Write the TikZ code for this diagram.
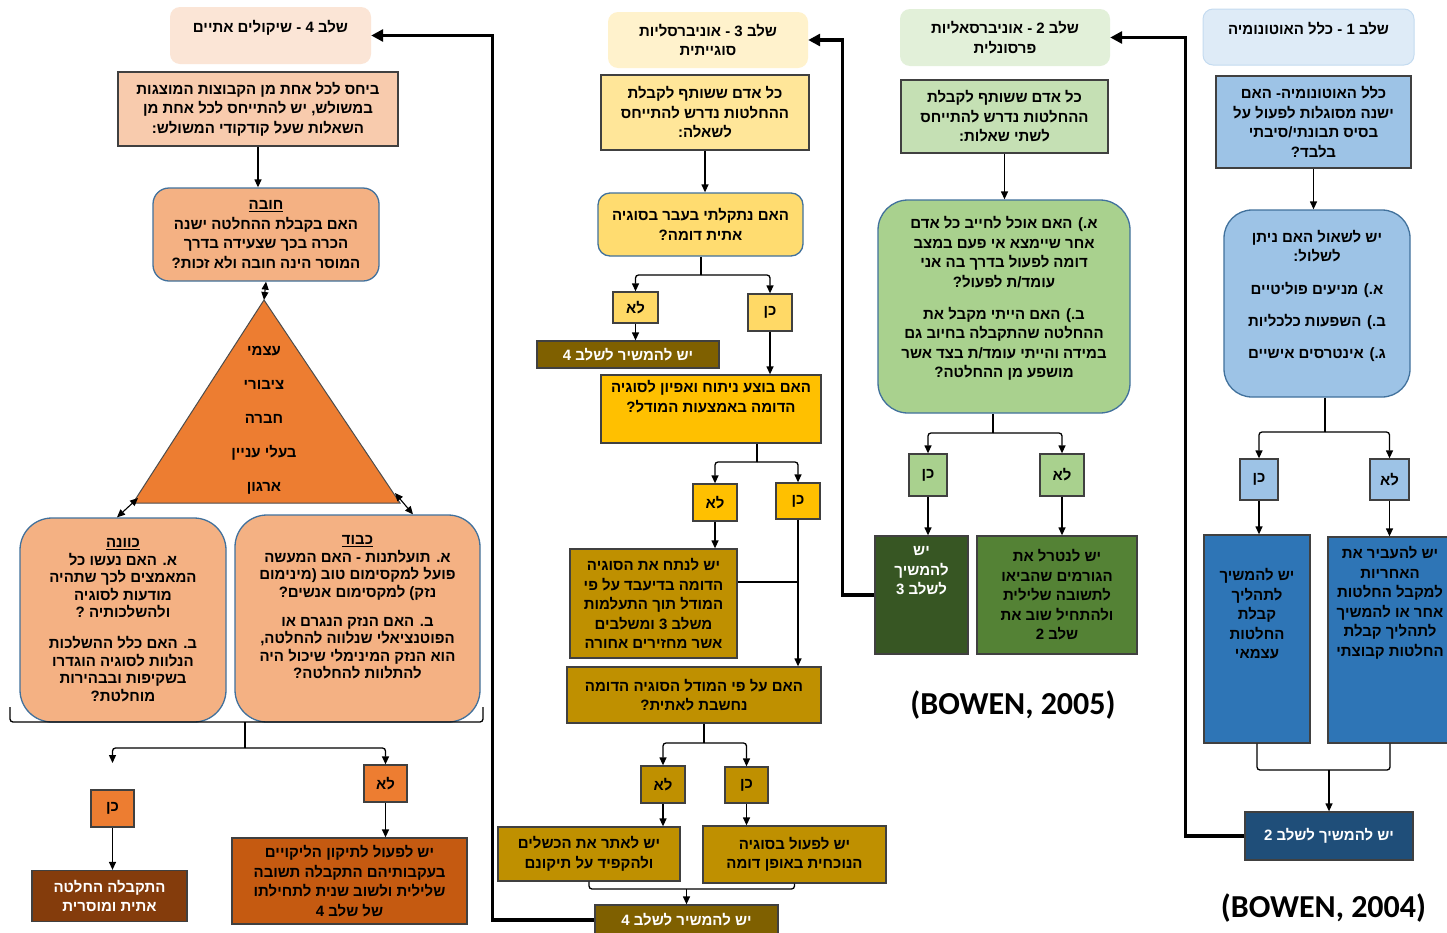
\documentclass[tikz,border=0pt]{standalone}
\usepackage{fontspec}
\setmainfont{Liberation Sans}
\newfontfamily\hebfont[Script=Hebrew]{Liberation Sans}
\newfontfamily\latfont{Carlito}
\usepackage{tikz}
\usetikzlibrary{arrows.meta,positioning}
\TeXXeTstate=1
\newcommand{\heb}[1]{\beginR #1\endR}
\newcommand{\hebtxt}{\hebfont\bfseries\fontsize{15}{19.5}\selectfont}
\newcommand{\hebtight}{\hebfont\bfseries\fontsize{15}{17.5}\selectfont}
\newcommand{\hebtri}{\hebfont\bfseries\fontsize{15}{34}\selectfont}

\definecolor{bl0}{HTML}{DEEBF7}
\definecolor{bl1}{HTML}{9DC3E6}
\definecolor{bl2}{HTML}{2E75B6}
\definecolor{bl3}{HTML}{1F4E79}
\definecolor{gr0}{HTML}{E2F0D9}
\definecolor{gr1}{HTML}{C5E0B4}
\definecolor{gr2}{HTML}{A9D18E}
\definecolor{gr3}{HTML}{548235}
\definecolor{gr4}{HTML}{375623}
\definecolor{ye0}{HTML}{FFF2CC}
\definecolor{ye1}{HTML}{FFE699}
\definecolor{ye2}{HTML}{FFD966}
\definecolor{ye3}{HTML}{FFC000}
\definecolor{ye4}{HTML}{BF9000}
\definecolor{ye5}{HTML}{7F6000}
\definecolor{or0}{HTML}{FBE5D6}
\definecolor{or1}{HTML}{F8CBAD}
\definecolor{or2}{HTML}{F4B183}
\definecolor{or3}{HTML}{ED7D31}
\definecolor{or4}{HTML}{C55A11}
\definecolor{or5}{HTML}{843C0C}
\definecolor{rimblue}{HTML}{41719C}

\tikzset{
  sz/.style 2 args={minimum width=#1pt, minimum height=#2pt},
  sq/.style={draw=black!75, line width=1.3pt, align=center, inner sep=2pt},
  rnd/.style={draw=rimblue, line width=1.3pt, rounded corners=#1, align=center, inner sep=2pt},
  rnd/.default=20pt,
  hdr/.style={rounded corners=10pt, align=center, inner sep=2pt},
  txt/.style={align=center, inner sep=2pt},
  arr/.style={-{Triangle[length=8pt,width=7pt]}, line width=1.3pt, rounded corners=3pt},
  both/.style={{Triangle[length=8pt,width=7pt]}-{Triangle[length=8pt,width=7pt]}, line width=1.1pt},
  back/.style={-{Triangle[length=12pt,width=12pt]}, line width=3.2pt},
  brace/.style={line width=1.3pt, rounded corners=3pt},
  cite/.style={font=\latfont\bfseries\fontsize{32}{38}\selectfont},
}

\begin{document}
\begin{tikzpicture}[x=1pt, y=-1pt, font=\hebtxt]
\path[fill=white, use as bounding box] (0,0) rectangle (1447,932);

% stage 1
\node[hdr, fill=bl0, draw=bl0!60!bl1, line width=1pt, sz={211}{56}] (hdr1) at (1308.5,37) {\heb{שלב 1 - כלל האוטונומיה}\\[-8pt]\strut};
\node[sq, fill=bl1, sz={195}{92}] (q1) at (1313.5,122) {\heb{כלל האוטונומיה- האם}\\\heb{ישנה מסוגלות לפעול על}\\\heb{בסיס תבונתי/סיבתי}\\\heb{בלבד?}};
\node[rnd=28pt, fill=bl1, sz={186}{187}] (r1) at (1317,303.5) {\heb{יש לשאול האם ניתן}\\\heb{לשלול:}\\[13.5pt]\heb{א.) מניעים פוליטיים}\\[12.5pt]\heb{ב.) השפעות כלכליות}\\[12.5pt]\heb{ג.) אינטרסים אישיים}\\[-7pt]\strut};
\node[sq, fill=bl1, sz={38}{41}] (yes1) at (1259,479.5) {\heb{כן}};
\node[sq, fill=bl1, sz={39}{41}] (no1) at (1389.5,479.5) {\heb{לא}};
\node[sq, fill=bl2, sz={106}{208}] (keep1) at (1257,639) {};
\node[txt, below=32pt of keep1.north] (keep1t) {\heb{יש להמשיך}\\\heb{לתהליך}\\\heb{קבלת}\\\heb{החלטות}\\\heb{עצמאי}};
\node[sq, fill=bl2, sz={124}{206}] (pass1) at (1390,640) {};
\node[txt, below=8pt of pass1.north] (pass1t) {\heb{יש להעביר את}\\\heb{האחריות}\\\heb{למקבל החלטות}\\\heb{אחר או להמשיך}\\\heb{לתהליך קבלת}\\\heb{החלטות קבוצתי}};
\node[sq, fill=bl3, text=white, sz={168}{48}] (next1) at (1329,836) {\heb{יש להמשיך לשלב 2}};
\node[cite] (bowen04) at (1323.5,908) {(BOWEN, 2004)};

\coordinate (s1) at (1325,432);
\coordinate (m1) at (1329,770);
\draw[arr] (q1.south) -- (q1.south |- r1.north);
\draw[brace] (r1.south -| s1) -- (s1);
\draw[arr] (s1) -| (yes1.north);
\draw[arr] (s1) -| (no1.north);
\draw[arr] (yes1.south) -- (yes1.south |- keep1.north);
\draw[arr] (no1.south) -- (no1.south |- pass1.north);
\draw[brace] (keep1.south) |- (m1) -| (pass1.south);
\draw[arr] (m1) -- (next1.north);

% stage 2
\node[hdr, fill=gr0, sz={210}{57}] (hdr2) at (1005,37.5) {\heb{שלב 2 - אוניברסאליות}\\\heb{פרסונלית}};
\node[sq, fill=gr1, sz={207}{73}] (q2) at (1004.5,116.5) {\heb{כל אדם ששותף לקבלת}\\\heb{ההחלטות נדרש להתייחס}\\\heb{לשתי שאלות:}};
\node[rnd=30pt, fill=gr2, sz={252}{213}] (r2) at (1004,306.5) {\heb{א.) האם אוכל לחייב כל אדם}\\\heb{אחר שיימצא אי פעם במצב}\\\heb{דומה לפעול בדרך בה אני}\\\heb{עומד/ת לפעול?}\\[12.5pt]\heb{ב.) האם הייתי מקבל את}\\\heb{ההחלטה שהתקבלה בחיוב גם}\\\heb{במידה והייתי עומד/ת בצד אשר}\\\heb{מושפע מן ההחלטה?}\\[-7pt]\strut};
\node[sq, fill=gr2, sz={38}{42}] (yes2) at (928,475) {\heb{כן}};
\node[sq, fill=gr2, sz={44}{42}] (no2) at (1062,475) {\heb{לא}};
\node[sq, fill=gr4, sz={93}{118}] (keep2) at (921.5,595) {};
\node[txt, text=white, below=9pt of keep2.north] (keep2t) {\heb{יש}\\\heb{להמשיך}\\\heb{לשלב 3}};
\node[sq, fill=gr3, sz={160}{118}] (fix2) at (1057,595) {\heb{יש לנטרל את}\\\heb{הגורמים שהביאו}\\\heb{לתשובה שלילית}\\\heb{ולהתחיל שוב את}\\\heb{שלב 2}};
\node[cite] (bowen05) at (1013,705) {(BOWEN, 2005)};

\coordinate (s2) at (993,433);
\draw[arr] (q2.south) -- (q2.south |- r2.north);
\draw[brace] (r2.south -| s2) -- (s2);
\draw[arr] (s2) -| (yes2.north);
\draw[arr] (s2) -| (no2.north);
\draw[arr] (yes2.south) -- (yes2.south |- keep2.north);
\draw[arr] (no2.south) -- (no2.south |- fix2.north);

% stage 3
\node[hdr, fill=ye0, sz={200}{56}] (hdr3) at (708,40) {\heb{שלב 3 - אוניברסליות}\\\heb{סוגייתית}};
\node[sq, fill=ye1, sz={208}{75}] (q3) at (705,112.5) {\heb{כל אדם ששותף לקבלת}\\\heb{ההחלטות נדרש להתייחס}\\\heb{לשאלה:}};
\node[rnd=12pt, fill=ye2!80!ye1, sz={205}{63}] (r3) at (700.5,224.5) {\heb{האם נתקלתי בעבר בסוגיה}\\\heb{אתית דומה?}};
\node[sq, fill=ye2, sz={45}{31}] (no3) at (635.5,307.5) {\heb{לא}};
\node[sq, fill=ye2, sz={44}{37}] (yes3) at (770,312.5) {\heb{כן}};
\node[sq, fill=ye5, text=white, sz={182}{27}] (cont3a) at (628,354.5) {\heb{יש להמשיר לשלב 4}};
\node[sq, fill=ye3, sz={220}{68}] (q3b) at (711,409) {\heb{האם בוצע ניתוח ואפיון לסוגיה}\\\heb{הדומה באמצעות המודל?}\\\strut};
\node[sq, fill=ye3, sz={44}{37}] (no3b) at (715,502.5) {\heb{לא}};
\node[sq, fill=ye3, sz={44}{36}] (yes3b) at (798,501) {\heb{כן}};
\node[sq, fill=ye4, sz={167}{109}] (an3) at (653.5,603.5) {\heb{יש לנתח את הסוגיה}\\\heb{הדומה בדיעבד על פי}\\\heb{המודל תוך התעלמות}\\\heb{משלב 3 ומשלבים}\\\heb{אשר מחזירים אחורה}};
\node[sq, fill=ye4, sz={254}{56}] (q3c) at (694,695) {\heb{האם על פי המודל הסוגיה הדומה}\\\heb{נחשבת לאתית?}};
\node[sq, fill=ye4, sz={44}{37}] (no3c) at (663,784.5) {\heb{לא}};
\node[sq, fill=ye4, sz={43}{36}] (yes3c) at (746.5,785) {\heb{כן}};
\node[sq, fill=ye4, sz={182}{54}] (fix3) at (589,854) {\heb{יש לאתר את הכשלים}\\\heb{ולהקפיד על תיקונם}};
\node[sq, fill=ye4, sz={183}{57}] (act3) at (794.5,854.5) {\heb{יש לפעול בסוגיה}\\\heb{הנוכחית באופן דומה}};
\node[sq, fill=ye5, text=white, sz={183}{30}] (cont3b) at (686.5,920) {\heb{יש להמשיר לשלב 4}};

\coordinate (s3a) at (701,275);
\coordinate (s3b) at (757,462);
\coordinate (s3c) at (704,743);
\coordinate (m3) at (686.5,889);
\draw[arr] (q3.south) -- (q3.south |- r3.north);
\draw[brace] (r3.south -| s3a) -- (s3a);
\draw[arr] (s3a) -| (no3.north);
\draw[arr] (s3a) -| (yes3.north);
\draw[arr] (no3.south) -- (no3.south |- cont3a.north);
\draw[arr] (yes3.south) -- (yes3.south |- q3b.north);
\draw[brace] (q3b.south -| s3b) -- (s3b);
\draw[arr] (s3b) -| (no3b.north);
\draw[arr] (s3b) -| (yes3b.north);
\draw[arr] (no3b.south) -- (no3b.south |- an3.north);
\draw[arr] (yes3b.south) -- (yes3b.south |- q3c.north);
\draw[line width=1.3pt] ([yshift=21.5pt]an3.east) -- ([yshift=21.5pt]an3.east -| yes3b.south);
\draw[brace] (q3c.south -| s3c) -- (s3c);
\draw[arr] (s3c) -| (no3c.north);
\draw[arr] (s3c) -| (yes3c.north);
\draw[arr] (no3c.south) -- (no3c.south |- fix3.north);
\draw[arr] (yes3c.south) -- (yes3c.south |- act3.north);
\draw[brace] (fix3.south) |- (m3) -| (act3.south);
\draw[arr] (m3) -- (cont3b.north);

% stage 4
\node[hdr, fill=or0, sz={201}{57}] (hdr4) at (270.5,35.5) {\heb{שלב 4 - שיקולים אתיים}\\[-8pt]\strut};
\node[sq, fill=or1, sz={280}{74}] (q4) at (258,109) {\heb{ביחס לכל אחת מן הקבוצות המוצגות}\\\heb{במשולש, יש להתייחס לכל אחת מן}\\\heb{השאלות שעל קודקודי המשולש:}};
\node[rnd=16pt, fill=or2, sz={226}{93}] (duty) at (266,234.5) {\underline{\heb{חובה}}\\\heb{האם בקבלת ההחלטה ישנה}\\\heb{הכרה בכך שצעידה בדרך}\\\heb{המוסר הינה חובה ולא זכות?}};
\coordinate (tritop) at (264,300);
\coordinate (trileft) at (133,503);
\coordinate (triright) at (400,503);
\draw[fill=or3, draw=black!70, line width=1pt] (tritop) -- (trileft) -- (triright) -- cycle;
\node[txt, font=\hebtri] (tritxt) at (264,420) {\heb{עצמי}\\\heb{ציבורי}\\\heb{חברה}\\\heb{בעלי עניין}\\\heb{ארגון}};
\node[rnd=32pt, fill=or2, font=\hebtight, sz={206}{204}] (intent) at (123,620) {\underline{\heb{כוונה}}\\\heb{א. האם נעשו כל}\\\heb{המאמצים לכך שתהיה}\\\heb{מודעות לסוגיה}\\\heb{ולהשלכותיה ?}\\[13.5pt]\heb{ב. האם כלל ההשלכות}\\\heb{הנלוות לסוגיה הוגדרו}\\\heb{בשקיפות ובבהירות}\\\heb{מוחלטת?}};
\node[rnd=32pt, fill=or2, font=\hebtight, sz={245}{207}] (respect) at (357.5,618.5) {\underline{\heb{כבוד}}\\\heb{א. תועלתנות - האם המעשה}\\\heb{פועל למקסימום טוב (מינימום}\\\heb{נזק) למקסימום אנשים?}\\[11.5pt]\heb{ב. האם הנזק הנגרם או}\\\heb{הפוטנציאלי שנלווה להחלטה,}\\\heb{הוא הנזק המינימלי שיכול היה}\\\heb{להתלוות להחלטה?}\\\strut};
\node[sq, fill=or3, sz={43}{37}] (yes4) at (112.5,808.5) {\heb{כן}};
\node[sq, fill=or3, sz={43}{37}] (no4) at (385.5,783.5) {\heb{לא}};
\node[sq, fill=or5, text=white, sz={155}{51}] (done4) at (109.5,896) {\heb{התקבלה החלטה}\\\heb{אתית ומוסרית}};
\node[sq, fill=or4, sz={235}{86}] (redo4) at (349.5,881) {\heb{יש לפעול לתיקון הליקויים}\\\heb{בעקבותיהם התקבלה תשובה}\\\heb{שלילית ולשוב שנית לתחילתו}\\\heb{של שלב 4}};

\coordinate (brl) at (10,707);
\coordinate (brm) at (245,722);
\coordinate (brr) at (483,707);
\coordinate (s4) at (245,748);
\coordinate (yes4end) at (112.5,763);
\draw[arr] (q4.south) -- (q4.south |- duty.north);
\draw[both] (duty.south) -- (tritop);
\draw[both] ([xshift=5pt,yshift=5pt]trileft) -- ([xshift=-6pt]intent.north);
\draw[both] ([xshift=-5pt,yshift=10pt]triright) -- ([xshift=55.5pt]respect.north);
\draw[brace] (brl) |- (brm) -| (brr);
\draw[brace] (brm) -- (s4);
\draw[arr] (s4) -| (yes4end);
\draw[arr] (s4) -| (no4.north);
\draw[arr] (yes4.south) -- (yes4.south |- done4.north);
\draw[arr] (no4.south) -- (no4.south |- redo4.north);

% returns
\draw[back] (next1.west) -- ++(-59,0) |- (hdr2.east);
\draw[back] (keep2.west) -- ++(-32,0) |- (hdr3.east);
\draw[back] (cont3b.west) -- ++(-102,0) |- (hdr4.east);
\end{tikzpicture}
\end{document}
